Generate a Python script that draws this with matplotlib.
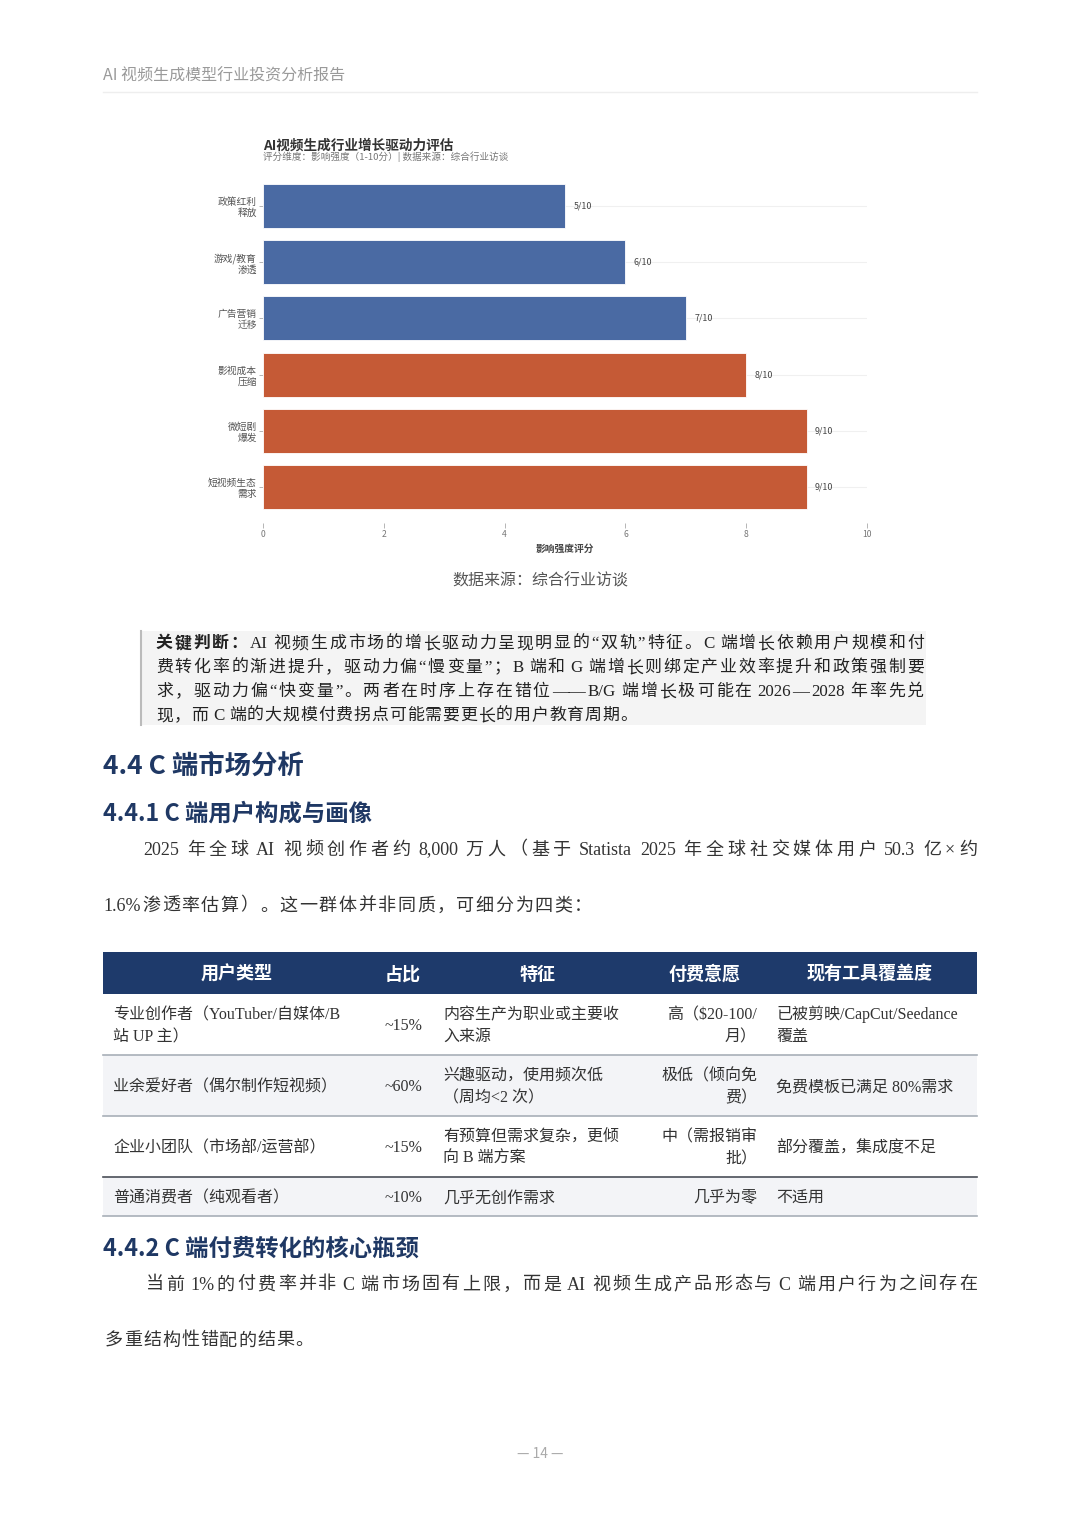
import re
import matplotlib
matplotlib.use('Agg')
import matplotlib.pyplot as plt
from matplotlib.patches import Rectangle
from matplotlib.lines import Line2D

# ---------------- data ----------------
page_header = 'AI 视频生成模型行业投资分析报告'
chart_title = 'AI视频生成行业增长驱动力评估'
chart_subtitle = '评分维度：影响强度（1-10分）| 数据来源：综合行业访谈'
drivers = ['短视频生态\n需求', '微短剧\n爆发', '影视成本\n压缩', '广告营销\n迁移', '游戏/教育\n渗透', '政策红利\n释放']
scores = [9, 9, 8, 7, 6, 5]
x_ticks = [0, 2, 4, 6, 8, 10]
x_label = '影响强度评分'
source_note = '数据来源：综合行业访谈'

key_prefix = '关键判断：'
key_lines = [
    'AI 视频生成市场的增长驱动力呈现明显的“双轨”特征。C 端增长依赖用户规模和付',
    '费转化率的渐进提升，驱动力偏“慢变量”；B 端和 G 端增长则绑定产业效率提升和政策强制要',
    '求，驱动力偏“快变量”。两者在时序上存在错位——B/G 端增长极可能在 2026—2028 年率先兑',
    '现，而 C 端的大规模付费拐点可能需要更长的用户教育周期。',
]
heading_1 = '4.4 C 端市场分析'
heading_2 = '4.4.1 C 端用户构成与画像'
para_1 = ['2025 年全球 AI 视频创作者约 8,000 万人（基于 Statista 2025 年全球社交媒体用户 50.3 亿×约',
          '1.6%渗透率估算）。这一群体并非同质，可细分为四类：']
table_header = ['用户类型', '占比', '特征', '付费意愿', '现有工具覆盖度']
user_types = ['专业创作者（YouTuber/自媒体/B\n站 UP 主）', '业余爱好者（偶尔制作短视频）',
              '企业小团队（市场部/运营部）', '普通消费者（纯观看者）']
shares = ['~15%', '~60%', '~15%', '~10%']
features = ['内容生产为职业或主要收\n入来源', '兴趣驱动，使用频次低\n（周均<2 次）',
            '有预算但需求复杂，更倾\n向 B 端方案', '几乎无创作需求']
willingness = ['高（$20-100/\n月）', '极低（倾向免\n费）', '中（需报销审\n批）', '几乎为零']
coverage = ['已被剪映/CapCut/Seedance\n覆盖', '免费模板已满足 80%需求', '部分覆盖，集成度不足', '不适用']
heading_3 = '4.4.2 C 端付费转化的核心瓶颈'
para_2 = ['当前 1%的付费率并非 C 端市场固有上限，而是 AI 视频生成产品形态与 C 端用户行为之间存在',
          '多重结构性错配的结果。']
page_no = '— 14 —'

# ---------------- setup ----------------
W, H = 1080, 1527
fig = plt.figure(figsize=(W / 100, H / 100), dpi=100)
fig.patch.set_facecolor('white')
SANS = ['Noto Sans CJK SC', 'DejaVu Sans']
SERIF = ['Liberation Serif', 'Noto Sans CJK SC', 'DejaVu Sans']
PX_PT = 100 / 72.0
NAVY = '#1F3864'
BLUE = '#4A6AA3'
ORANGE = '#C55A36'


def fx(px):
    return px / W


def fy(py):
    return 1 - py / H


def base(yc, size):
    # baseline pixel y for a visual centre yc
    return yc + 0.36 * size * PX_PT


def T(x, yc, s, size, color='#333333', ha='left', weight='normal', family=SANS):
    return fig.text(fx(x), fy(base(yc, size)), s, fontsize=size, color=color, ha=ha,
                    va='baseline', fontweight=weight, family=family)


def rect(x0, y0, x1, y1, color, z=0):
    fig.add_artist(Rectangle((fx(x0), fy(y1)), fx(x1) - fx(x0), (y1 - y0) / H,
                             transform=fig.transFigure, facecolor=color, edgecolor='none', zorder=z))


def hline(x0, x1, y, color, lw):
    fig.add_artist(Line2D([fx(x0), fx(x1)], [fy(y), fy(y)], transform=fig.transFigure,
                          color=color, linewidth=lw))


TOK = re.compile(r'[A-Za-z0-9$.,/%<\-]+|—+|\s|.')
renderer = fig.canvas.get_renderer()


def justified(x0, x1, yc, segments, size, color, family=SERIF):
    items = []
    for text, weight in segments:
        for t in TOK.findall(text):
            items.append((t, weight))
    sw = 0.22 * size * PX_PT
    objs = []
    total = 0.0
    nspace = 0
    for t, weight in items:
        if t.isspace():
            objs.append(None)
            nspace += 1
            continue
        o = fig.text(0, fy(base(yc, size)), t, fontsize=size, color=color, ha='left',
                     va='baseline', fontweight=weight, family=family)
        w = o.get_window_extent(renderer=renderer).width
        objs.append((o, w))
        total += w
    n = len(objs) - nspace
    gap = (x1 - x0 - total - nspace * sw) / max(n - 1, 1)
    x = x0
    for it in objs:
        if it is None:
            x += sw
            continue
        o, w = it
        o.set_x(fx(x))
        x += w + gap


# ---------------- page header ----------------
T(103, 75, page_header, 11.5, color='#9A9A9A')
hline(103, 977, 92, '#EEEEEE', 1.0)

# ---------------- chart ----------------
ax_top, ax_bot = 169.5, 523.5
ax = fig.add_axes([fx(263), fy(ax_bot), fx(867) - fx(263), (ax_bot - ax_top) / H])
ypos = list(range(len(drivers)))
colors = [ORANGE if s >= 8 else BLUE for s in scores]
ax.barh(ypos, scores, height=0.78, color=colors, edgecolor='white', linewidth=0.6, zorder=2)
ax.set_xlim(0, 10)
ax.set_ylim(-0.65, len(drivers) - 0.35)
ax.set_yticks(ypos)
ax.set_yticklabels(drivers, fontsize=7, color='#555555', family=SANS, linespacing=1.1)
ax.set_xticks(x_ticks)
ax.set_xticklabels([str(v) for v in x_ticks], fontsize=6.2, color='#777777', family=SANS)
ax.tick_params(axis='x', length=3.5, width=0.6, color='#AAAAAA', pad=1.5)
ax.tick_params(axis='y', length=3, width=0.6, color='#AAAAAA', pad=1.5)
for sp in ax.spines.values():
    sp.set_visible(False)
ax.grid(axis='y', color='#F0F0F0', linewidth=0.8, zorder=0)
ax.set_axisbelow(True)
for s, yi in zip(scores, ypos):
    ax.annotate(f'{s}/10', xy=(s, yi), xytext=(6, 0), textcoords='offset points',
                va='center', ha='left', fontsize=6.4, color='#444444', family=SANS)
ax.set_xlabel(x_label, fontsize=7, color='#444444', fontweight='bold', family=SANS, labelpad=3)

T(263, 145, chart_title, 9.8, color='#333333', weight='bold')
T(263, 157, chart_subtitle, 6.9, color='#777777')
T(540, 580, source_note, 11.5, color='#555555', ha='center')

# ---------------- key judgement box ----------------
rect(140, 631, 926, 725, '#F4F4F4')
fig.add_artist(Line2D([fx(141), fx(141)], [fy(631), fy(725)], transform=fig.transFigure,
                      color='#BBBBBB', linewidth=1.5))
key_y = [642, 666, 690, 714]
key_x1 = [924, 924, 924, 637]
for i, (ln, yc, x1) in enumerate(zip(key_lines, key_y, key_x1)):
    segs = [(key_prefix, 'bold'), (ln, 'normal')] if i == 0 else [(ln, 'normal')]
    justified(156, x1, yc, segs, 12.2, '#222222')

# ---------------- headings & paragraph ----------------
T(103, 765, heading_1, 19, color=NAVY, weight='bold')
T(103, 812, heading_2, 16.8, color=NAVY, weight='bold')
justified(143, 977, 848, [(para_1[0], 'normal')], 13, '#333333')
justified(103, 592, 904, [(para_1[1], 'normal')], 13, '#333333')

# ---------------- table ----------------
tx0, tx1 = 103, 977
rect(tx0, 952, tx1, 994, '#1E3A6B')
head_cx = [237, 403, 538, 705, 870]
for hx, h in zip(head_cx, table_header):
    T(hx, 973, h, 13, color='white', ha='center', weight='bold')

row_bounds = [(994, 1055), (1055, 1116), (1116, 1177), (1177, 1216)]
row_bg = ['white', '#F3F4F7', 'white', '#F3F4F7']
line_cols = ['#A8AFB8', '#A8AFB8', '#4A4F58', '#A8AFB8']
for (r0, r1), bg in zip(row_bounds, row_bg):
    rect(tx0, r0, tx1, r1, bg)
for (r0, r1), lc in zip(row_bounds, line_cols):
    hline(tx0, tx1, r1, lc, 1.2)

cols = [(user_types, 113, 'left'), (shares, 403, 'center'), (features, 443, 'left'),
        (willingness, 757, 'right'), (coverage, 776, 'left')]
cell_size = 11.5
for ri, (r0, r1) in enumerate(row_bounds):
    yc = (r0 + r1) / 2
    for values, cx, ha in cols:
        lines = values[ri].split('\n')
        n = len(lines)
        for li, ln in enumerate(lines):
            ly = yc + (li - (n - 1) / 2) * 22
            T(cx, ly, ln, cell_size, color='#333333', ha=ha, family=SERIF)

# ---------------- section 4.4.2 ----------------
T(103, 1247, heading_3, 16.8, color=NAVY, weight='bold')
justified(146, 977, 1283, [(para_2[0], 'normal')], 13, '#333333')
justified(105, 313, 1339, [(para_2[1], 'normal')], 13, '#333333')

T(540, 1453, page_no, 10, color='#AAAAAA', ha='center')

fig.savefig('out.png', dpi=100, facecolor='white')
